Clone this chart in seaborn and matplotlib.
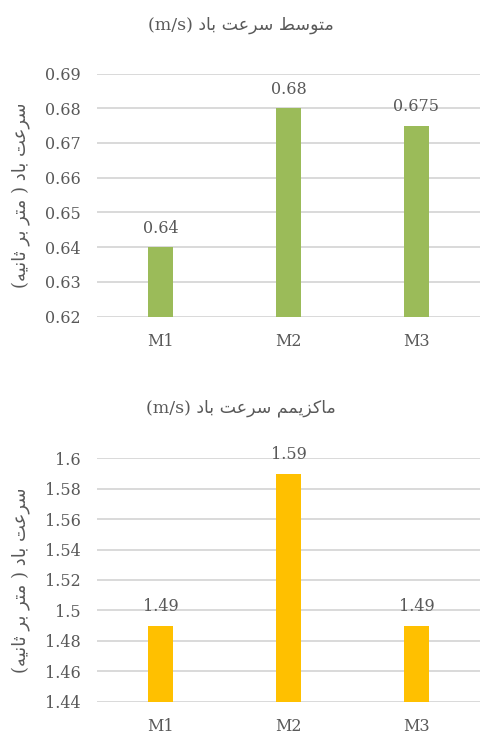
import re
import matplotlib
matplotlib.use("Agg")
import matplotlib.pyplot as plt
import seaborn as sns

# ---------------- data ----------------
categories = ["M1", "M2", "M3"]
mean_speed = [0.64, 0.68, 0.675]
max_speed = [1.49, 1.59, 1.49]
mean_title = "متوسط سرعت باد (m/s)"
max_title = "ماکزیمم سرعت باد (m/s)"
y_label = "سرعت باد ( متر بر ثانیه)"
mean_ticks = [0.62, 0.63, 0.64, 0.65, 0.66, 0.67, 0.68, 0.69]
max_ticks = [1.44, 1.46, 1.48, 1.5, 1.52, 1.54, 1.56, 1.58, 1.6]

# ------------- minimal Persian shaping (matplotlib has no text shaping) -------------
FORMS = {
    'ا': (0xFE8D, 0xFE8E, None, None),
    'ب': (0xFE8F, 0xFE90, 0xFE91, 0xFE92),
    'ت': (0xFE95, 0xFE96, 0xFE97, 0xFE98),
    'ث': (0xFE99, 0xFE9A, 0xFE9B, 0xFE9C),
    'د': (0xFEA9, 0xFEAA, None, None),
    'ر': (0xFEAD, 0xFEAE, None, None),
    'ز': (0xFEAF, 0xFEB0, None, None),
    'س': (0xFEB1, 0xFEB2, 0xFEB3, 0xFEB4),
    'ط': (0xFEC1, 0xFEC2, 0xFEC3, 0xFEC4),
    'ع': (0xFEC9, 0xFECA, 0xFECB, 0xFECC),
    'م': (0xFEE1, 0xFEE2, 0xFEE3, 0xFEE4),
    'ن': (0xFEE5, 0xFEE6, 0xFEE7, 0xFEE8),
    'ه': (0xFEE9, 0xFEEA, 0xFEEB, 0xFEEC),
    'و': (0xFEED, 0xFEEE, None, None),
    'ی': (0xFBFC, 0xFBFD, 0xFBFE, 0xFBFF),
    'ک': (0xFB8E, 0xFB8F, 0xFB90, 0xFB91),
}


def rtl(s):
    out = []
    for i, c in enumerate(s):
        if c not in FORMS:
            out.append(c)
            continue
        iso, fin, ini, med = FORMS[c]
        prev = s[i - 1] if i > 0 else ''
        nxt = s[i + 1] if i + 1 < len(s) else ''
        jp = prev in FORMS and FORMS[prev][2] is not None
        jn = ini is not None and nxt in FORMS
        if jp and jn:
            g = med
        elif jp:
            g = fin
        elif jn:
            g = ini
        else:
            g = iso
        out.append(chr(g))
    v = ''.join(out)[::-1]
    v = v.translate(str.maketrans({'(': ')', ')': '('}))
    v = re.sub(r'[A-Za-z0-9/.]+', lambda m: m.group(0)[::-1], v)
    return v


# ---------------- style ----------------
sns.set_theme(style="white")
plt.rcParams['font.family'] = ['DejaVu Serif', 'DejaVu Sans']
TXT = "#595959"
GRID = "#D9D9D9"
FS = 11.5

W, H = 481, 734
fig = plt.figure(figsize=(W / 100, H / 100), dpi=100)


def panel(rect, values, color, ticks, title, title_y):
    ax = fig.add_axes(rect)
    sns.barplot(x=categories, y=values, ax=ax, color=color, saturation=1,
                width=0.195, edgecolor="none")
    ax.set_ylim(ticks[0], ticks[-1])
    ax.set_xlim(-0.5, len(categories) - 0.5)
    ax.set_yticks(ticks)
    ax.set_yticklabels([f"{round(t, 2):g}" for t in ticks])
    ax.set_axisbelow(True)
    ax.yaxis.grid(True, color=GRID, linewidth=1.4)
    ax.xaxis.grid(False)
    for s in ax.spines.values():
        s.set_visible(False)
    ax.tick_params(axis='y', length=0, pad=11.5, labelsize=FS, labelcolor=TXT)
    ax.tick_params(axis='x', length=0, pad=11.5, labelsize=FS, labelcolor=TXT)
    ax.set_xlabel("")
    ax.set_ylabel("")
    for c in ax.containers:
        ax.bar_label(c, fmt="%g", padding=7.5, fontsize=FS, color=TXT)
    fig.text(0.5, title_y, rtl(title), ha="center", va="center",
             fontsize=12.5, color=TXT)
    bb = ax.get_position()
    fig.text(21 / W, bb.y0 + bb.height / 2, rtl(y_label), rotation=90,
             ha="center", va="center", fontsize=13, color=TXT)
    return ax


panel([96.5 / W, (H - 316.7) / H, 384 / W, (316.7 - 73.5) / H],
      mean_speed, "#9BBB59", mean_ticks, mean_title, 1 - 25 / H)
panel([96.5 / W, (H - 701.7) / H, 384 / W, (701.7 - 458.3) / H],
      max_speed, "#FFC000", max_ticks, max_title, 1 - 408 / H)

fig.savefig("out.png", dpi=100)
